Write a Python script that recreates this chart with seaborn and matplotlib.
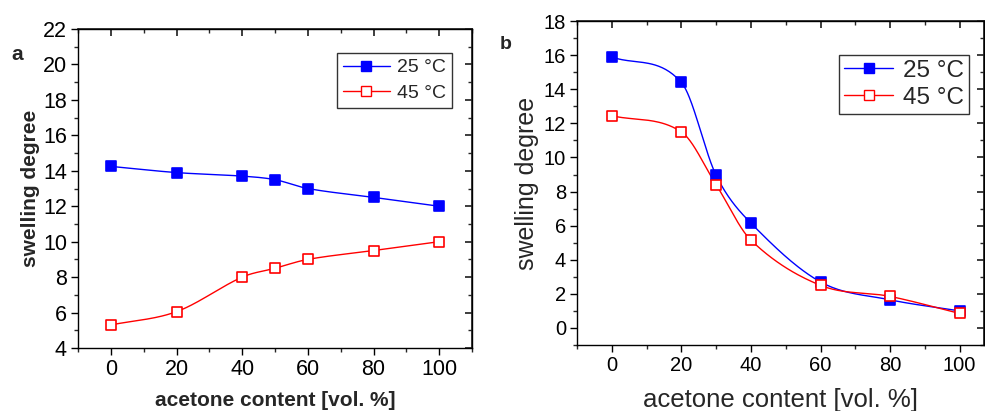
import numpy as np
import pandas as pd
import matplotlib
matplotlib.use("Agg")
import matplotlib.pyplot as plt
from matplotlib.lines import Line2D
from matplotlib.ticker import MultipleLocator
import seaborn as sns

# ---------- data ----------
acetone_a = [0, 20, 40, 50, 60, 80, 100]
swell_a_25 = [14.25, 13.9, 13.7, 13.5, 13.0, 12.5, 12.0]
swell_a_45 = [5.3, 6.05, 8.0, 8.5, 9.0, 9.5, 10.0]

acetone_b = [0, 20, 30, 40, 60, 80, 100]
swell_b_25 = [15.9, 14.4, 8.95, 6.15, 2.7, 1.65, 1.0]
swell_b_45 = [12.45, 11.5, 8.4, 5.15, 2.5, 1.85, 0.85]

x_ticks = [0, 20, 40, 60, 80, 100]
y_ticks_a = list(range(4, 23, 2))
y_ticks_b = list(range(0, 19, 2))

series_labels = ["25 °C", "45 °C"]
BLUE = "#0000ff"
RED = "#ff0000"

sns.set_theme(style="ticks")
plt.rcParams["font.family"] = ["Liberation Sans", "DejaVu Sans"]


def smooth_curve(x, y, n=40):
    # hermite curve through the points, tangents from neighbouring points
    x = np.asarray(x, float)
    y = np.asarray(y, float)
    m = np.zeros_like(y)
    m[0] = (y[1] - y[0]) / (x[1] - x[0])
    m[-1] = (y[-1] - y[-2]) / (x[-1] - x[-2])
    m[1:-1] = (y[2:] - y[:-2]) / (x[2:] - x[:-2])
    xs, ys = [], []
    for i in range(len(x) - 1):
        h = x[i + 1] - x[i]
        t = np.linspace(0, 1, n, endpoint=False)
        h00 = 2 * t**3 - 3 * t**2 + 1
        h10 = t**3 - 2 * t**2 + t
        h01 = -2 * t**3 + 3 * t**2
        h11 = t**3 - t**2
        xs.append(x[i] + t * h)
        ys.append(h00 * y[i] + h10 * h * m[i] + h01 * y[i + 1] + h11 * h * m[i + 1])
    xs.append([x[-1]])
    ys.append([y[-1]])
    return np.concatenate(xs), np.concatenate(ys)


def draw_panel(ax, x, y25, y45, msize, lw):
    df = pd.DataFrame({"x": list(x) * 2, "y": list(y25) + list(y45),
                       "T": [series_labels[0]] * len(x) + [series_labels[1]] * len(x)})
    for lab, col, face in [(series_labels[0], BLUE, BLUE), (series_labels[1], RED, "white")]:
        sub = df[df["T"] == lab]
        sx, sy = smooth_curve(sub["x"], sub["y"])
        sns.lineplot(x=sx, y=sy, ax=ax, color=col, lw=lw, sort=False, zorder=2)
        ax.scatter(sub["x"], sub["y"], marker="s", s=msize**2, facecolor=face,
                   edgecolor=col, linewidth=1.2, zorder=3)


def style_axes(ax, xlim, ylim, ylocs, labelsize):
    ax.set_xlim(*xlim)
    ax.set_ylim(*ylim)
    ax.set_xticks(x_ticks, labels=[str(v) for v in x_ticks], fontsize=labelsize)
    ax.set_yticks(ylocs, labels=[str(v) for v in ylocs], fontsize=labelsize)
    ax.xaxis.set_minor_locator(MultipleLocator(10))
    ax.yaxis.set_minor_locator(MultipleLocator(1))
    ax.tick_params(which="major", direction="out", length=5, width=1, pad=3, colors="black")
    ax.tick_params(which="minor", direction="out", length=3, width=1)
    for s in ax.spines.values():
        s.set_color("black")
        s.set_linewidth(1)
    top = ax.secondary_xaxis("top")
    top.set_xticks(x_ticks, labels=[])
    top.xaxis.set_minor_locator(MultipleLocator(10))
    top.tick_params(which="major", direction="in", length=5)
    top.tick_params(which="minor", direction="in", length=3)
    right = ax.secondary_yaxis("right")
    right.set_yticks(ylocs, labels=[])
    right.yaxis.set_minor_locator(MultipleLocator(1))
    right.tick_params(which="major", direction="in", length=5)
    right.tick_params(which="minor", direction="in", length=3)


fig = plt.figure(figsize=(9.85, 4.11), dpi=100)

# ---------- panel a ----------
ax1 = fig.add_axes([0.0792, 0.1533, 0.400, 0.776])
draw_panel(ax1, acetone_a, swell_a_25, swell_a_45, msize=7, lw=1)
style_axes(ax1, (-10, 110), (4, 22), y_ticks_a, 15.5)
ax1.set_xlabel("acetone content [vol. %]", fontsize=15, fontweight="bold", labelpad=8)
ax1.set_ylabel("swelling degree", fontsize=15, fontweight="bold", labelpad=2)
handles = [Line2D([], [], color=BLUE, lw=1, marker="s", ms=7, mfc=BLUE, mec=BLUE),
           Line2D([], [], color=RED, lw=1, marker="s", ms=7, mfc="white", mec=RED)]
leg1 = ax1.legend(handles, series_labels, loc="upper right", bbox_to_anchor=(0.95, 0.925),
                  fontsize=14, frameon=True, fancybox=False, edgecolor="black",
                  handlelength=2.4, handletextpad=0.4, borderpad=0.3, labelspacing=0.4,
                  borderaxespad=0)
leg1.get_frame().set_linewidth(1)
fig.text(0.012, 0.855, "a", fontsize=15, fontweight="bold")

# ---------- panel b ----------
ax2 = fig.add_axes([0.5858, 0.1606, 0.4132, 0.788])
draw_panel(ax2, acetone_b, swell_b_25, swell_b_45, msize=7.5, lw=1)
style_axes(ax2, (-10, 107), (-1, 18), y_ticks_b, 14.5)
ax2.set_xlabel("acetone content [vol. %]", fontsize=18.5, labelpad=9)
ax2.set_ylabel("swelling degree", fontsize=18, labelpad=3)
handles = [Line2D([], [], color=BLUE, lw=1, marker="s", ms=7.5, mfc=BLUE, mec=BLUE),
           Line2D([], [], color=RED, lw=1, marker="s", ms=7.5, mfc="white", mec=RED)]
leg2 = ax2.legend(handles, series_labels, loc="upper right", bbox_to_anchor=(0.962, 0.895),
                  fontsize=17.5, frameon=True, fancybox=False, edgecolor="black",
                  handlelength=2.0, handletextpad=0.4, borderpad=0.2, labelspacing=0.2,
                  borderaxespad=0)
leg2.get_frame().set_linewidth(1)
fig.text(0.507, 0.88, "b", fontsize=14, fontweight="bold")

fig.savefig("out.png", dpi=100)
